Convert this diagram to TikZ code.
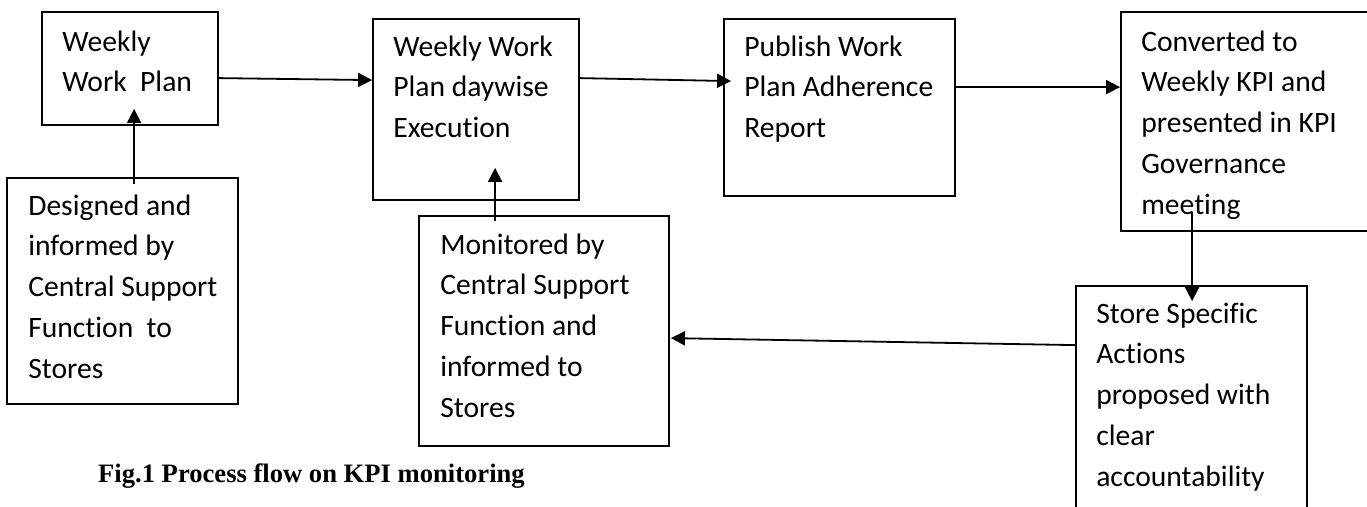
\documentclass[tikz,border=0pt]{standalone}
\usepackage{fontspec}
\setmainfont{Carlito}[Ligatures=NoCommon]
\newfontfamily\capfont{Liberation Serif}
\usetikzlibrary{arrows.meta,calc}
\begin{document}
\begin{tikzpicture}[x=1pt,y=-1pt,
  box/.style={draw, line width=1.8pt, inner sep=0pt},
  txt/.style={anchor=base west, inner sep=0pt, font=\fontsize{29.6}{40.8}\selectfont},
  arr/.style={line width=1.8pt, -{Triangle[length=14pt,width=14pt]}},
  captext/.style={anchor=base west, inner sep=0pt, font=\capfont\bfseries\fontsize{26.6}{30}\selectfont}]
\useasboundingbox (0,0) rectangle (1367,506);
\clip (0,0) rectangle (1367,506);
% boxes
\node[box, minimum width=176pt, minimum height=113pt] (b1) at (130,68.5) {};
\node[box, minimum width=206pt, minimum height=181pt] (b2) at (476,109.5) {};
\node[box, minimum width=231pt, minimum height=177pt] (b3) at (839.5,107.5) {};
\node[box, minimum width=279pt, minimum height=219pt] (b4) at (1260.5,121.5) {};
\node[box, minimum width=231pt, minimum height=226pt] (dsg) at (122.5,291) {};
\node[box, minimum width=250pt, minimum height=230pt] (mon) at (544,331) {};
\node[box, minimum width=231pt, minimum height=274pt] (sto) at (1191.5,423) {};
% texts
\node[txt] (t1) at ($(b1.north west)+(21,40)$) {\parbox[t]{300pt}{\raggedright Weekly\\Work~~Plan}};
\node[txt] (t2) at ($(b2.north west)+(21,38)$) {\parbox[t]{300pt}{\raggedright Weekly Work\\Plan daywise\\Execution}};
\node[txt] (t3) at ($(b3.north west)+(21,38)$) {\parbox[t]{300pt}{\raggedright Publish Work\\Plan Adherence\\Report}};
\node[txt] (t4) at ($(b4.north west)+(21,40)$) {\parbox[t]{300pt}{\raggedright Converted to\\Weekly KPI and\\presented in KPI\\Governance\\meeting}};
\node[txt] (t5) at ($(dsg.north west)+(22,38)$) {\parbox[t]{300pt}{\raggedright Designed and\\informed by\\Central Support\\Function~~to\\Stores}};
\node[txt] (t6) at ($(mon.north west)+(22,39)$) {\parbox[t]{300pt}{\raggedright Monitored by\\Central Support\\Function and\\informed to\\Stores}};
\node[txt] (t7) at ($(sto.north west)+(21,38)$) {\parbox[t]{300pt}{\raggedright Store Specific\\Actions\\proposed with\\clear\\accountability}};
\node[captext] (caption) at (98,482) {Fig.1 Process flow on KPI monitoring};
% connectors
\draw[arr] ($(b1.north east)+(0,67)$) -- ($(b2.north west)+(0,62)$);
\draw[arr] ($(b2.north east)+(0,60)$) -- ($(b3.north west)+(8,63)$);
\draw[arr] ($(b3.north east)+(0,69)$) -- ($(b4.north west)+(0,76)$);
\draw[arr] ($(b4.north west)+(72,201)$) -- ($(sto.north west)+(117,16)$);
\draw[arr] ($(sto.north west)+(0,60)$) -- ($(mon.north east)+(1,123)$);
\draw[arr] ($(mon.north west)+(77,6)$) -- ($(b2.south west)+(123,-33)$);
\draw[arr] ($(dsg.north west)+(128,7)$) -- ($(b1.south west)+(93,-17)$);
\end{tikzpicture}
\end{document}
